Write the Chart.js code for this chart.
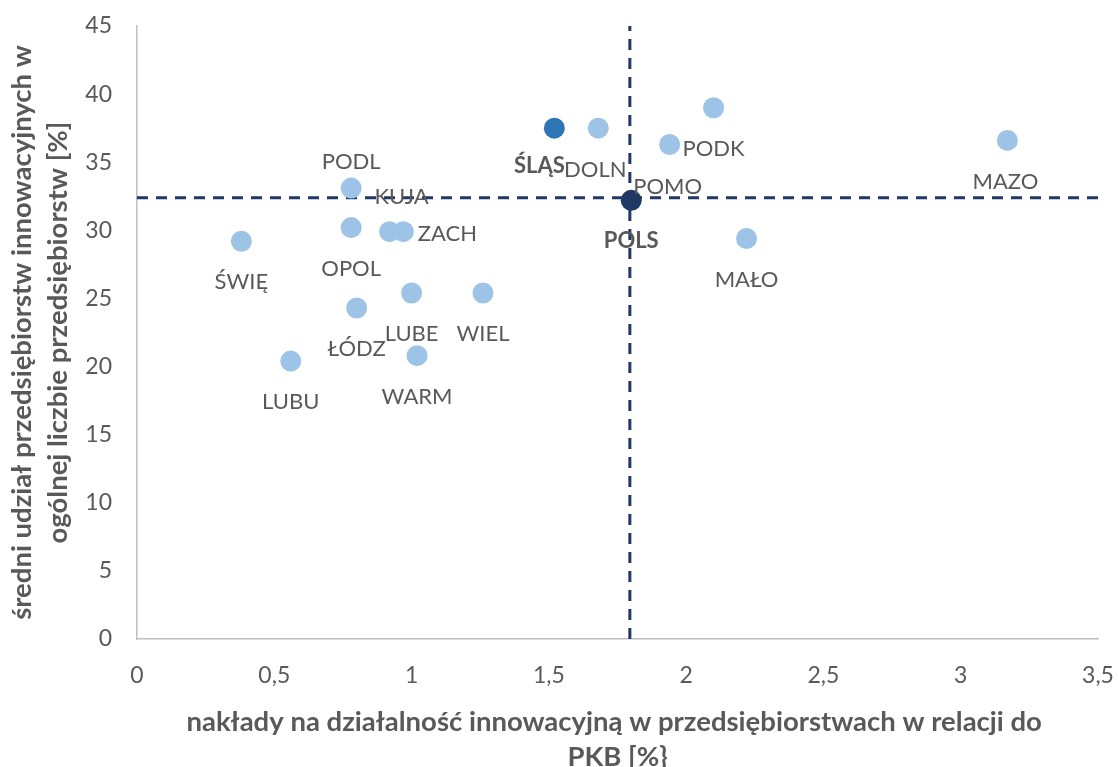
<!DOCTYPE html>
<html>
<head>
<meta charset="utf-8">
<script src="https://cdn.jsdelivr.net/npm/chart.js@4.4.0/dist/chart.umd.min.js"></script>
<style>
  html, body { margin: 0; padding: 0; background: #fff; }
</style>
</head>
<body>
<canvas id="myChart" width="1118" height="767"></canvas>
<script>
// regions (short codes) and their values
let regions = ['ŚWIĘ', 'LUBU', 'PODL', 'OPOL', 'ŁÓDZ', 'KUJA', 'ZACH', 'LUBE', 'WARM', 'WIEL', 'ŚLĄS', 'DOLN', 'POMO', 'POLS', 'PODK', 'MAŁO', 'MAZO'];
let spending = [0.38, 0.56, 0.78, 0.78, 0.80, 0.92, 0.97, 1.00, 1.02, 1.26, 1.52, 1.68, 1.94, 1.80, 2.10, 2.22, 3.17];
let share = [29.2, 20.4, 33.1, 30.2, 24.3, 29.9, 29.9, 25.4, 20.8, 25.4, 37.5, 37.5, 36.3, 32.2, 39.0, 29.4, 36.6];
// Poland average lines
let avgX = 1.795;
let avgY = 32.4;
let xRange = [0, 3.5];
let yRange = [0, 45];

let grey = '#595959';
let colorFor = function(name) {
  if (name === 'ŚLĄS') return '#2e75b6';
  if (name === 'POLS') return '#1f3864';
  return '#9dc3e6';
};

// where each label sits relative to its dot (default: below)
let labelShift = {
  'PODL': [0, -26],
  'KUJA': [12, -35],
  'ZACH': [44, 2],
  'ŚLĄS': [-15, 38],
  'DOLN': [-3, 42],
  'POMO': [-2, 42],
  'MAZO': [-2, 41]
};

let pointLabels = {
  id: 'pointLabels',
  afterDatasetsDraw(chart) {
    let ctx = chart.ctx;
    let meta = chart.getDatasetMeta(0);
    ctx.save();
    ctx.textAlign = 'center';
    ctx.textBaseline = 'middle';
    ctx.fillStyle = grey;
    meta.data.forEach(function(pt, i) {
      let name = regions[i];
      let s = labelShift[name] || [0, 41];
      let bold = (name === 'ŚLĄS' || name === 'POLS');
      ctx.font = (bold ? 'bold ' : '') + '22px Lato';
      ctx.fillText(name, pt.x + s[0], pt.y + s[1]);
    });
    ctx.restore();
  }
};

let points = regions.map(function(r, i) { return {x: spending[i], y: share[i]}; });

let ctx = document.getElementById('myChart').getContext('2d');
let chart = new Chart(ctx, {
  type: 'scatter',
  data: {
    datasets: [{
      data: points,
      backgroundColor: regions.map(colorFor),
      borderWidth: 0,
      pointRadius: 10.5,
      order: 0
    }, {
      type: 'line',
      data: [{x: xRange[0], y: avgY}, {x: xRange[1], y: avgY}],
      borderColor: '#1f3864',
      borderWidth: 3,
      borderDash: [11, 8],
      pointRadius: 0,
      order: 1
    }, {
      type: 'line',
      data: [{x: avgX, y: yRange[0]}, {x: avgX, y: yRange[1]}],
      borderColor: '#1f3864',
      borderWidth: 3,
      borderDash: [11, 8],
      pointRadius: 0,
      order: 1
    }]
  },
  options: {
    responsive: false,
    animation: false,
    devicePixelRatio: 1,
    layout: { padding: { top: 26, right: 20, left: 0, bottom: 0 } },
    plugins: {
      legend: { display: false },
      tooltip: { enabled: false }
    },
    scales: {
      x: {
        type: 'linear',
        min: xRange[0],
        max: xRange[1],
        afterFit: function(scale) {
          scale.height = 128;
          scale.paddingLeft = 0;
          scale.paddingRight = 0;
        },
        grid: { display: false, drawTicks: false },
        border: { display: true, color: '#bfbfbf', width: 1.5 },
        ticks: {
          stepSize: 0.5,
          padding: 23,
          color: grey,
          font: { family: 'Lato', size: 23 },
          callback: function(v) { return String(v).replace('.', ','); }
        },
        title: {
          display: true,
          text: ['nakłady na działalność innowacyjną w przedsiębiorstwach w relacji do ', 'PKB [%}'],
          color: grey,
          font: { family: 'Lato', size: 27.5, weight: 'bold', lineHeight: 1.28 },
          padding: { top: 0, bottom: -8 }
        }
      },
      y: {
        type: 'linear',
        min: yRange[0],
        max: yRange[1],
        afterFit: function(scale) {
          scale.width = 137;
          scale.paddingTop = 0;
          scale.paddingBottom = 0;
        },
        grid: { display: false, drawTicks: false },
        border: { display: true, color: '#bfbfbf', width: 1.5 },
        ticks: {
          stepSize: 5,
          padding: 25,
          color: grey,
          font: { family: 'Lato', size: 23 }
        },
        title: {
          display: true,
          text: ['średni udział przedsiębiorstw innowacyjnych w', 'ogólnej liczbie przedsiębiorstw [%]'],
          color: grey,
          font: { family: 'Lato', size: 27.5, weight: 'bold', lineHeight: 1.28 },
          padding: { top: 5, bottom: 0 }
        }
      }
    }
  },
  plugins: [pointLabels]
});
</script>
</body>
</html>
